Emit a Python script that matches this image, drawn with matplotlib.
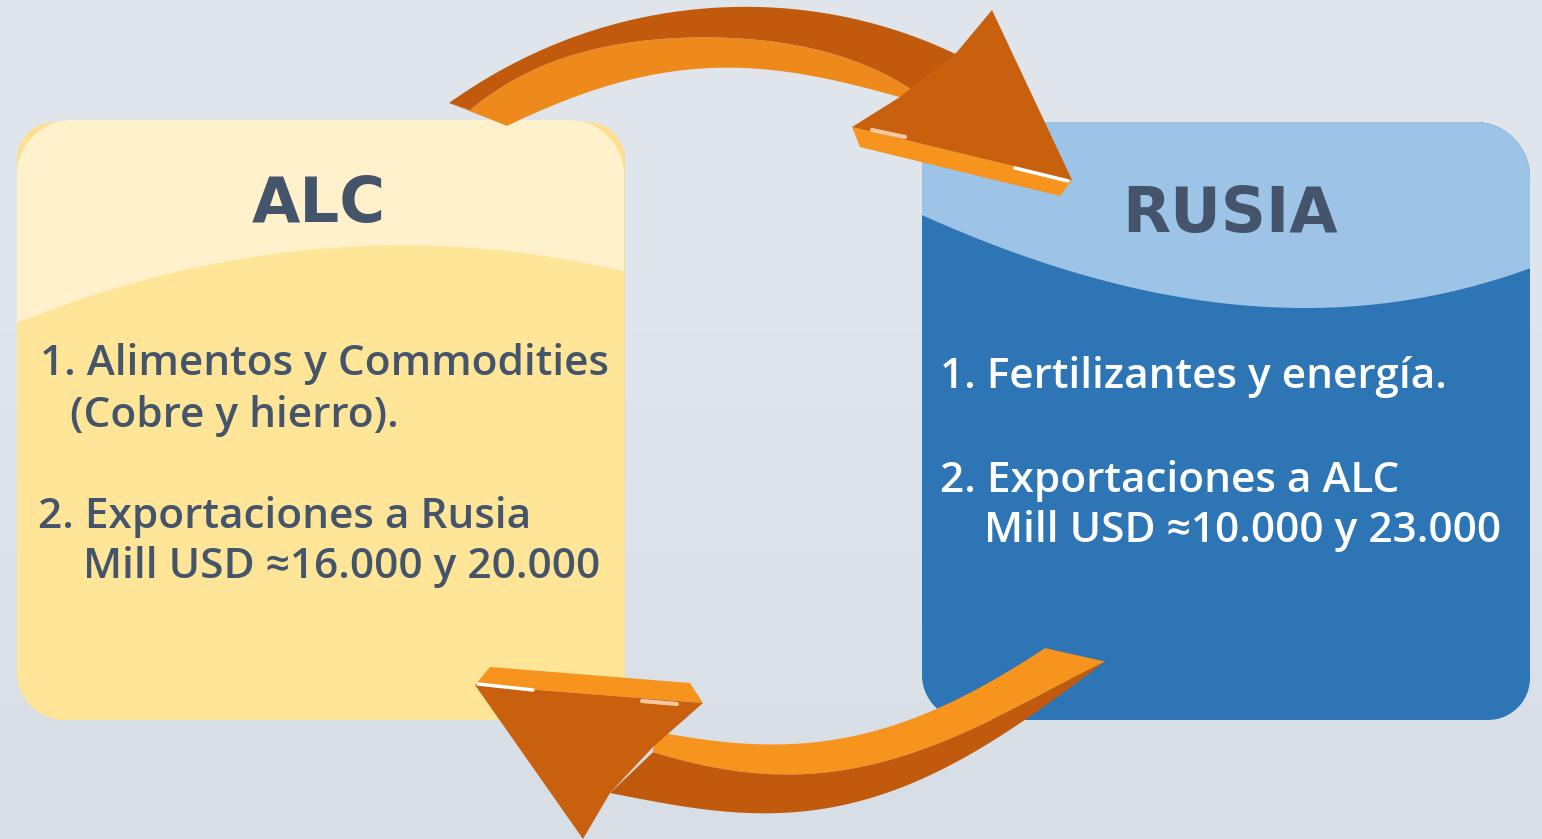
import numpy as np
import matplotlib
matplotlib.use("Agg")
import matplotlib.pyplot as plt
from matplotlib.patches import Polygon

# texts
alc_title = "ALC"
rusia_title = "RUSIA"
alc_lines = ["1. Alimentos y Commodities", "(Cobre y hierro).",
             "2. Exportaciones a Rusia", "Mill USD \u224816.000 y 20.000"]
rusia_lines = ["1. Fertilizantes y energía.",
               "2. Exportaciones a ALC", "Mill USD \u224810.000 y 23.000"]

W, H = 1542, 839
TXT = "#44546a"
DARK = "#c25a0e"
HEAD = "#c9600d"
LIGHT = "#f6941d"


def smooth(pts, deg=4, n=80, x0=None, x1=None):
    # least squares curve y(x) through the traced points
    p = np.array(pts, dtype=float)
    c = np.polyfit(p[:, 0], p[:, 1], deg)
    a = p[0, 0] if x0 is None else x0
    b = p[-1, 0] if x1 is None else x1
    x = np.linspace(a, b, n)
    return np.column_stack([x, np.polyval(c, x)])


def arc(cx, cy, r, a0, a1, n=20):
    a = np.radians(np.linspace(a0, a1, n))
    return np.column_stack([cx + r * np.cos(a), cy + r * np.sin(a)])


def rbox(x0, y0, x1, y1, tl, tr, br, bl):
    pts = []
    pts.append(arc(x0 + tl, y0 + tl, tl, 180, 270) if tl else [[x0, y0]])
    pts.append(arc(x1 - tr, y0 + tr, tr, 270, 360) if tr else [[x1, y0]])
    pts.append(arc(x1 - br, y1 - br, br, 0, 90) if br else [[x1, y1]])
    pts.append(arc(x0 + bl, y1 - bl, bl, 90, 180) if bl else [[x0, y1]])
    return np.vstack(pts)


fig = plt.figure(figsize=(W / 100, H / 100), dpi=100)
ax = fig.add_axes([0, 0, 1, 1])
ax.set_xlim(0, W)
ax.set_ylim(H, 0)
ax.axis("off")

# background gradient
bg = np.array([[0.878, 0.902, 0.922], [0.871, 0.898, 0.929], [0.847, 0.871, 0.902]])
yy = np.linspace(0, 1, 200)
grad = np.vstack([np.interp(yy, [0, 0.4, 1], bg[:, k]) for k in range(3)]).T
ax.imshow(grad[:, None, :], extent=[0, W, H, 0], aspect="auto", zorder=0)

# ALC box (thin darker rim shows at the top corners)
ax.add_patch(Polygon(rbox(17, 122, 625, 720, 38, 38, 40, 48), closed=True,
                     fc="#ffdf8e", ec="none", zorder=1))
lb = rbox(17, 120, 624, 720, 55, 55, 40, 48)
lpatch = Polygon(lb, closed=True, fc="#ffe597", ec="none", zorder=1)
ax.add_patch(lpatch)
curve = smooth([(17, 322), (150, 280), (380, 245), (520, 252), (624, 272)], deg=2,
               x0=0, x1=640)
top = np.vstack([[[0, 100]], curve, [[640, 100]]])
p = Polygon(top, closed=True, fc="#fff1cc", ec="none", zorder=2)
ax.add_patch(p)
p.set_clip_path(lpatch)

# RUSIA box
rb = rbox(922, 122, 1530, 720, 0, 55, 42, 45)
rpatch = Polygon(rb, closed=True, fc="#2e75b6", ec="none", zorder=1)
ax.add_patch(rpatch)
curve = smooth([(922, 215), (1100, 280), (1290, 307), (1430, 297), (1530, 268)], deg=3,
               x0=910, x1=1545)
top = np.vstack([[[910, 100]], curve, [[1545, 100]]])
p = Polygon(top, closed=True, fc="#9dc3e6", ec="none", zorder=2)
ax.add_patch(p)
p.set_clip_path(rpatch)

# titles
ax.text(319, 222, alc_title, fontsize=45, fontweight="bold", family="DejaVu Sans",
        color=TXT, ha="center", va="baseline", zorder=5)
ax.text(1230, 232, rusia_title, fontsize=45, fontweight="bold", family="DejaVu Sans",
        color=TXT, ha="center", va="baseline", zorder=5)

# body text
lx = [40, 70, 38, 83]
ly = [375, 427, 528, 578]
for s, x, y in zip(alc_lines, lx, ly):
    ax.text(x, y, s, fontsize=30.5, fontweight="semibold", family="Open Sans",
            color=TXT, ha="left", va="baseline", zorder=5)
rx = [940, 940, 984]
ry = [388, 492, 542]
for s, x, y in zip(rusia_lines, rx, ry):
    ax.text(x, y, s, fontsize=30.5, fontweight="semibold", family="Open Sans",
            color="white", ha="left", va="baseline", zorder=5)

# top arrow (ALC -> RUSIA)
outer = smooth([(449, 103), (507, 67), (573, 37), (640, 18), (707, 9), (770, 7),
                (827, 13), (893, 30), (960, 56)])
mid = smooth([(470, 110), (507, 84), (573, 55), (640, 41), (707, 37), (770, 42),
              (827, 52), (887, 75), (915, 92)])
inner = smooth([(507, 126), (573, 97), (640, 78), (707, 68), (770, 70),
                (827, 78), (877, 92), (912, 100)])
ax.add_patch(Polygon(np.vstack([[[449, 103]], mid, inner[::-1]]), closed=True,
                     fc="#ee8a1b", ec="none", zorder=6))
ax.add_patch(Polygon(np.vstack([outer, mid[::-1]]), closed=True, fc=DARK, ec="none", zorder=6))
ax.add_patch(Polygon([(852, 127), (1072, 180), (1060, 196), (860, 147)], closed=True,
                     fc=LIGHT, ec="none", zorder=7))
ax.add_patch(Polygon([(957, 52), (992, 10), (1072, 180), (852, 127), (900, 97)],
                     closed=True, fc=HEAD, ec="none", zorder=8))
ax.plot([1015, 1068], [168, 181], color="white", lw=2.5, solid_capstyle="round", zorder=9)
ax.plot([872, 905], [130, 137], color="#f8c9a0", lw=3, solid_capstyle="round", zorder=9)

# bottom arrow (RUSIA -> ALC), traced right to left
inner = smooth([(1045, 648), (980, 688), (913, 718), (847, 737), (790, 745),
                (727, 742), (673, 734), (655, 732)])
mid = smooth([(1105, 662), (1047, 690), (980, 727), (913, 753), (847, 768),
              (790, 775), (727, 770), (653, 752)])
outer = smooth([(1105, 662), (1047, 703), (980, 750), (913, 783), (847, 803),
                (790, 813), (693, 808), (610, 793)])
ax.add_patch(Polygon(np.vstack([inner, mid[::-1]]), closed=True, fc=LIGHT, ec="none", zorder=6))
ax.add_patch(Polygon(np.vstack([mid, outer[::-1]]), closed=True, fc=DARK, ec="none", zorder=6))
ax.add_patch(Polygon([(475, 685), (490, 667), (690, 683), (703, 703)], closed=True,
                     fc=LIGHT, ec="none", zorder=7))
ax.add_patch(Polygon([(475, 685), (703, 703), (653, 747), (610, 793), (583, 839)],
                     closed=True, fc=HEAD, ec="none", zorder=8))
ax.plot([478, 533], [684, 690], color="white", lw=2.5, solid_capstyle="round", zorder=9)
ax.plot([642, 677], [701, 704], color="#f8c9a0", lw=3, solid_capstyle="round", zorder=9)

fig.savefig("out.png", dpi=100)
